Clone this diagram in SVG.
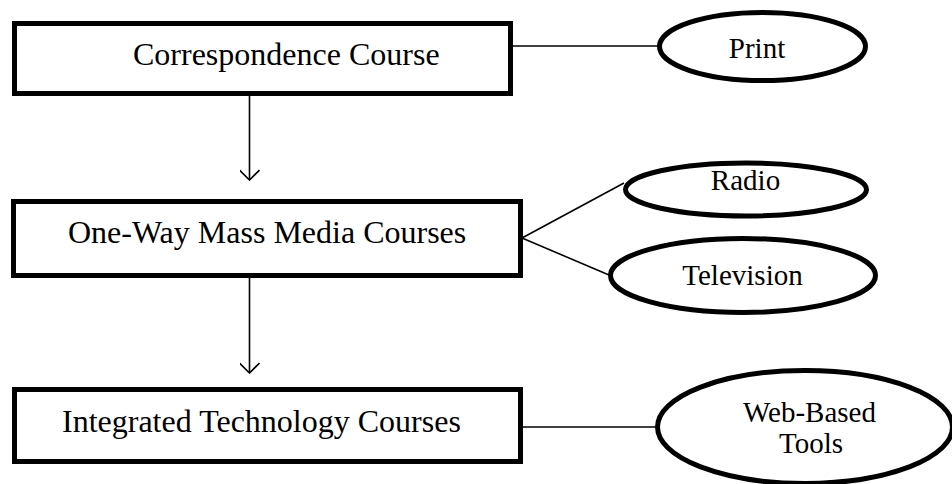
<svg xmlns="http://www.w3.org/2000/svg" width="952" height="484" viewBox="0 0 952 484">
<defs>
<style>
.box{fill:#fff;stroke:#000;stroke-width:5}
.ell{fill:#fff;stroke:#000;stroke-width:5}
.con{fill:none;stroke:#000;stroke-width:1.6}
.bt{font-family:"Liberation Serif","Times New Roman",serif;font-size:32px;fill:#000}
.et{font-family:"Liberation Serif","Times New Roman",serif;font-size:29px;fill:#000;text-anchor:middle}
</style>
<marker id="arr" viewBox="0 0 12 20" refX="11" refY="10" markerWidth="12" markerHeight="20" markerUnits="userSpaceOnUse" orient="auto">
<path d="M1 0 L11 10 L1 20" fill="none" stroke="#000" stroke-width="1.6"/>
</marker>
</defs>
<rect width="952" height="484" fill="#fff"/>
<g id="connectors">
<line class="con" x1="513" y1="46" x2="658" y2="46"/>
<line class="con" x1="522" y1="238" x2="624" y2="183"/>
<line class="con" x1="522" y1="238" x2="609" y2="275"/>
<line class="con" x1="523" y1="427" x2="657" y2="427"/>
<line class="con" x1="249.5" y1="96" x2="249.5" y2="180" marker-end="url(#arr)"/>
<line class="con" x1="249.5" y1="278" x2="249.5" y2="373" marker-end="url(#arr)"/>
</g>
<g id="correspondence">
<rect class="box" x="14.5" y="23.5" width="496" height="70"/>
<text class="bt" x="133" y="65">Correspondence Course</text>
</g>
<g id="oneway">
<rect class="box" x="13.5" y="201.5" width="507" height="74"/>
<text class="bt" x="68" y="243">One-Way Mass Media Courses</text>
</g>
<g id="integrated">
<rect class="box" x="14.5" y="389.5" width="506" height="72"/>
<text class="bt" x="62" y="432">Integrated Technology Courses</text>
</g>
<g id="print">
<ellipse class="ell" cx="762.5" cy="46.5" rx="103" ry="34"/>
<text class="et" x="757" y="58">Print</text>
</g>
<g id="radio">
<ellipse class="ell" cx="746" cy="189.5" rx="120.5" ry="26.5"/>
<text class="et" x="745.5" y="190">Radio</text>
</g>
<g id="television">
<ellipse class="ell" cx="743" cy="275.5" rx="132.5" ry="37"/>
<text class="et" x="742.5" y="285">Television</text>
</g>
<g id="webtools">
<ellipse class="ell" cx="805" cy="427" rx="147.5" ry="56.5"/>
<text class="et" x="809.5" y="422">Web-Based</text>
<text class="et" x="811" y="453">Tools</text>
</g>
</svg>
